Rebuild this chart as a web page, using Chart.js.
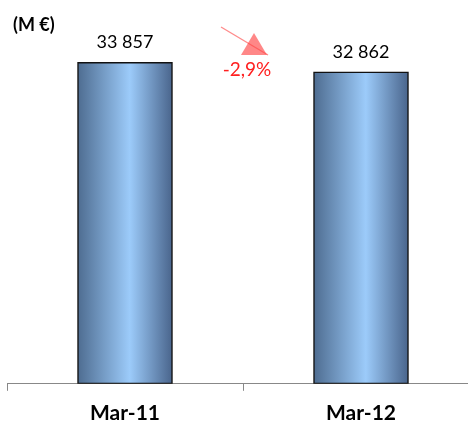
<!DOCTYPE html>
<html>
<head>
<meta charset="utf-8">
<script src="https://cdn.jsdelivr.net/npm/chart.js@4/dist/chart.umd.min.js"></script>
<style>
  html, body { margin: 0; padding: 0; background: #fff; overflow: hidden; }
  #wrap { width: 480px; height: 436px; }
</style>
</head>
<body>
<div id="wrap"><canvas id="chart" width="480" height="436"></canvas></div>
<script>
const categories = ["Mar-11", "Mar-12"];
const revenue = [33857, 32862];
const valueLabels = ["33 857", "32 862"];
const changeLabel = "-2,9%";
const unitLabel = "(M €)";

const FONT = "Lato, 'Open Sans', sans-serif";

// horizontal gradient for each bar, like the Excel fill
function barFill(ctx) {
  const chart = ctx.chart;
  const x = chart.scales.x;
  if (!x || ctx.dataIndex === undefined) return "#7fa6d3";
  const c = x.getPixelForValue(ctx.dataIndex);
  if (!isFinite(c)) return "#7fa6d3";
  const g = chart.ctx.createLinearGradient(c - 48, 0, c + 48, 0);
  g.addColorStop(0, "#4d6b8f");
  g.addColorStop(0.55, "#9ccbfa");
  g.addColorStop(1, "#48638a");
  return g;
}

const labelsPlugin = {
  id: "labels",
  afterDatasetsDraw(chart) {
    const c = chart.ctx;
    const meta = chart.getDatasetMeta(0);
    c.save();
    c.fillStyle = "#000";
    c.textAlign = "center";
    c.textBaseline = "alphabetic";
    c.font = "18px " + FONT;
    meta.data.forEach((bar, i) => {
      c.fillText(valueLabels[i], bar.x, bar.y - 14);
    });

    c.font = "bold 18px " + FONT;
    c.textAlign = "left";
    c.fillText(unitLabel, 13, 31);

    // change arrow between the bars
    const mid = chart.scales.x.getPixelForValue(0.5);
    c.strokeStyle = "rgba(255,60,60,0.6)";
    c.lineWidth = 1.3;
    c.beginPath();
    c.moveTo(mid - 22, 27);
    c.lineTo(mid + 25, 55);
    c.stroke();
    c.fillStyle = "rgba(255,70,70,0.65)";
    c.beginPath();
    c.moveTo(mid + 11, 33);
    c.lineTo(mid - 2, 55);
    c.lineTo(mid + 24, 55);
    c.closePath();
    c.fill();

    c.fillStyle = "#ff2020";
    c.font = "19px " + FONT;
    c.textAlign = "center";
    c.textBaseline = "middle";
    c.fillText(changeLabel, mid + 4, 70);
    c.restore();
  }
};

new Chart(document.getElementById("chart").getContext("2d"), {
  type: "bar",
  data: {
    labels: categories,
    datasets: [{
      data: revenue,
      backgroundColor: barFill,
      borderColor: "#111",
      borderWidth: 1.5,
      borderSkipped: false,
      barThickness: 95
    }]
  },
  options: {
    responsive: false,
    animation: false,
    layout: { padding: { left: 7, right: 1, top: 4, bottom: 0 } },
    plugins: { legend: { display: false }, tooltip: { enabled: false } },
    scales: {
      y: { display: false, min: 0, max: 40000 },
      x: {
        grid: {
          offset: true,
          drawOnChartArea: false,
          tickLength: 7,
          color: "#888"
        },
        border: { color: "#888", width: 1 },
        ticks: {
          color: "#000",
          font: { family: FONT, size: 21, weight: "bold" },
          padding: 10
        }
      }
    }
  },
  plugins: [labelsPlugin]
});
</script>
</body>
</html>
